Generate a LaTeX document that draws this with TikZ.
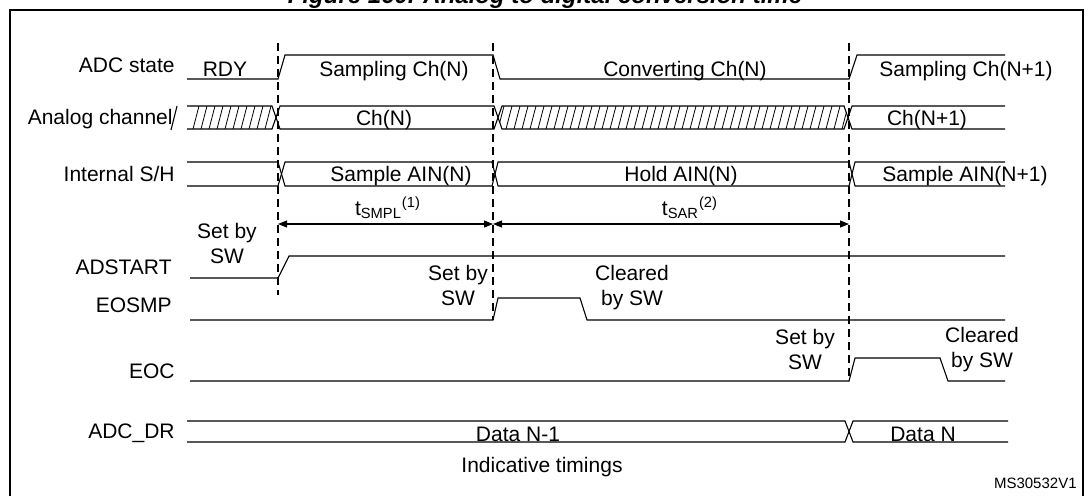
\documentclass[tikz,border=0pt]{standalone}
\usepackage{fontspec}
\setmainfont{Liberation Sans}
\usetikzlibrary{arrows.meta}

\begin{document}
\begin{tikzpicture}[x=0.5pt,y=-0.5pt,
    every node/.style={inner sep=0pt,font=\fontsize{10.5}{12.5}\selectfont},
    wave/.style={line width=0.55pt},
    hatch/.style={line width=0.4pt},
    guide/.style={line width=0.55pt,dash pattern=on 4pt off 2.5pt},
    signame/.style={anchor=base east},
    state/.style={anchor=base},
    note/.style={anchor=north,align=center},
    span/.style={line width=0.55pt,{Triangle[length=4.5pt,width=3.5pt]}-{Triangle[length=4.5pt,width=3.5pt]}}]
  \useasboundingbox (0,0) rectangle (1086,495);

  \node[anchor=base,font=\bfseries\itshape\fontsize{12}{14}\selectfont] (title) at (545,3) {Figure 160. Analog to digital conversion time};
  \draw[line width=1.2pt] (10,505) -- (10,10) -- (1083,10) -- (1083,505);

  % signal names
  \node[signame] (lstate) at (175,72) {ADC state};
  \node[signame] (lchan) at (173,124) {Analog channel};
  \node[signame] (lsh) at (175,181) {Internal S/H};
  \node[signame] (lstart) at (172,274) {ADSTART};
  \node[signame] (leosmp) at (172,312) {EOSMP};
  \node[signame] (leoc) at (175,378) {EOC};
  \node[signame] (ldr) at (175,438) {ADC\_DR};
  \draw[wave] (171,130) -- (177,106);

  % time marks
  \coordinate (a1) at (278,43);  \coordinate (a2) at (278,295);
  \coordinate (b1) at (493,43);  \coordinate (b2) at (493,320);
  \coordinate (c1) at (849,43);  \coordinate (c2) at (849,381);
  \draw[guide] (a1) -- (a2);
  \draw[guide] (b1) -- (b2);
  \draw[guide] (c1) -- (c2);

  % ADC state
  \draw[wave] (187,79) -- (278,79) -- (285,55) -- (493,55) -- (500,79) -- (849,79) -- (857,55) -- (1005,55);
  \node[state] (rdy) at (225,76) {RDY};
  \node[state] (smpn) at (394,76) {Sampling Ch(N)};
  \node[state] (cnvn) at (685,76) {Converting Ch(N)};
  \node[state] (smpnn) at (966,76) {Sampling Ch(N+1)};

  % analog channel
  \draw[wave] (187,106) -- (272,106) -- (280,129) -- (494,129) -- (502,106) -- (844,106) -- (852,129) -- (1005,129);
  \draw[wave] (187,129) -- (272,129) -- (280,106) -- (494,106) -- (502,129) -- (844,129) -- (852,106) -- (1005,106);
  \begin{scope}
    \clip (187,106) -- (272,106) -- (276,117.5) -- (272,129) -- (187,129) -- cycle;
    \foreach \x in {193,201,...,281}
      \draw[hatch] (\x,129) -- (\x+6,106);
  \end{scope}
  \begin{scope}
    \clip (502,106) -- (844,106) -- (848,117.5) -- (844,129) -- (502,129) -- (498,117.5) -- cycle;
    \foreach \x in {498,506,...,850}
      \draw[hatch] (\x,129) -- (\x+6,106);
  \end{scope}
  \node[state] (chn) at (384,125) {Ch(N)};
  \node[state] (chnn) at (927,125) {Ch(N+1)};

  % internal sample and hold
  \draw[wave] (187,162) -- (278,162) -- (285,186) -- (492,186) -- (498,162) -- (849,162) -- (855,186) -- (1005,186);
  \draw[wave] (187,186) -- (278,186) -- (285,162) -- (492,162) -- (498,186) -- (849,186) -- (855,162) -- (1005,162);
  \node[state] (sampn) at (401,181) {Sample AIN(N)};
  \node[state] (holdn) at (681,181) {Hold AIN(N)};
  \node[state] (sampnn) at (965,181) {Sample AIN(N+1)};

  % durations
  \coordinate (sa) at (278,224);
  \coordinate (sb) at (493,224);
  \coordinate (sc) at (849,224);
  \draw[span] (sa) -- (sb);
  \draw[span] (sb) -- (sc);
  \node[state] (tsmpl) at (388,215) {t\textsubscript{SMPL}\textsuperscript{(1)}};
  \node[state] (tsar) at (690,215) {t\textsubscript{SAR}\textsuperscript{(2)}};

  % ADSTART, EOSMP, EOC
  \draw[wave] (190,278) -- (278,278) -- (289,256) -- (1005,256);
  \draw[wave] (190,320) -- (493,320) -- (498,298) -- (580,298) -- (587,320) -- (1005,320);
  \draw[wave] (190,381) -- (849,381) -- (855,358) -- (940,358) -- (948,381) -- (1005,381);
  \node[note] (setsw) at (227,223) {Set by\\SW};
  \node[note] (seteosmp) at (458,265) {Set by\\SW};
  \node[note] (clreosmp) at (632,265) {Cleared\\by SW};
  \node[note] (seteoc) at (805,329) {Set by\\SW};
  \node[note] (clreoc) at (982,327) {Cleared\\by SW};

  % data register
  \draw[wave] (187,421) -- (845,421) -- (853,442) -- (1008,442);
  \draw[wave] (187,442) -- (845,442) -- (853,421) -- (1008,421);
  \node[state] (datan1) at (518,441) {Data N-1};
  \node[state] (datan) at (923,441) {Data N};

  \node[state] (indic) at (542,472) {Indicative timings};
  \node[anchor=base east,font=\fontsize{7.5}{9}\selectfont] (ref) at (1077,488) {MS30532V1};
\end{tikzpicture}
\end{document}
